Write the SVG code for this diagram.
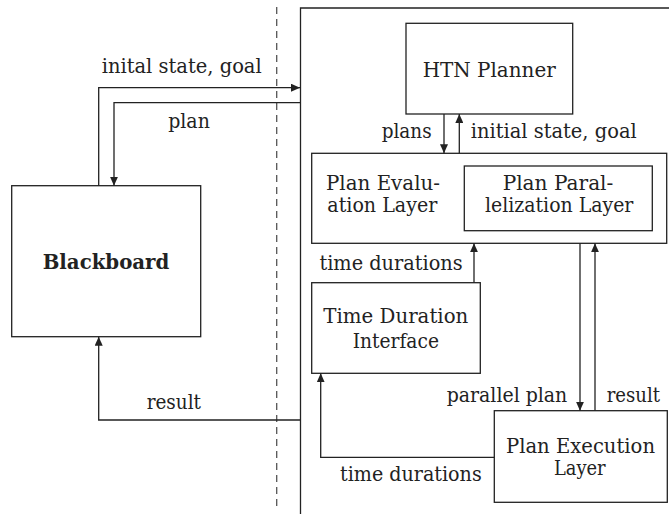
<svg xmlns="http://www.w3.org/2000/svg" width="669" height="514" viewBox="0 0 669 514">
<style>
.b{fill:#fff;stroke:#222;stroke-width:1.3}
.l{fill:none;stroke:#222;stroke-width:1.3}
text{font-family:'DejaVu Serif','Liberation Serif',serif;font-size:20px;fill:#222}
.m{text-anchor:middle}
.e{text-anchor:end}
</style>
<defs>
<marker id="a" markerWidth="10" markerHeight="8" refX="9" refY="4" orient="auto" markerUnits="userSpaceOnUse">
<path d="M0,0 L9,4 L0,8 Z" fill="#222"/>
</marker>
</defs>
<rect width="669" height="514" fill="#fff"/>
<line x1="276.7" y1="7" x2="276.7" y2="510" stroke="#555" stroke-width="1.3" stroke-dasharray="7,5"/>
<g id="container">
<path class="l" d="M669,8 H300.5 V514"/>
</g>
<g id="blackboard">
<rect class="b" x="11.7" y="185.7" width="189" height="151"/>
<text class="m" x="106" y="269" font-weight="bold" textLength="126.7" lengthAdjust="spacingAndGlyphs">Blackboard</text>
</g>
<g id="htn">
<rect class="b" x="406" y="23.3" width="166.7" height="90.7"/>
<text class="m" x="489.2" y="76.7" textLength="133" lengthAdjust="spacingAndGlyphs">HTN Planner</text>
</g>
<g id="evaluation">
<rect class="b" x="311.7" y="153.3" width="355" height="90"/>
<text class="m" x="383" y="190" textLength="114" lengthAdjust="spacingAndGlyphs">Plan Evalu-</text>
<text class="m" x="382.3" y="212.3" textLength="110" lengthAdjust="spacingAndGlyphs">ation Layer</text>
</g>
<g id="parallelization">
<rect class="b" x="464.3" y="166" width="188" height="64.7"/>
<text class="m" x="558" y="190" textLength="110.7" lengthAdjust="spacingAndGlyphs">Plan Paral-</text>
<text class="m" x="559.2" y="212.3" textLength="148.3" lengthAdjust="spacingAndGlyphs">lelization Layer</text>
</g>
<g id="timeduration">
<rect class="b" x="311.7" y="282.7" width="168.6" height="90.6"/>
<text class="m" x="395.8" y="322.7" textLength="145" lengthAdjust="spacingAndGlyphs">Time Duration</text>
<text class="m" x="395.8" y="348.3" textLength="86.3" lengthAdjust="spacingAndGlyphs">Interface</text>
</g>
<g id="execution">
<rect class="b" x="494.3" y="410.7" width="173" height="91.6"/>
<text class="m" x="580.5" y="452.7" textLength="149" lengthAdjust="spacingAndGlyphs">Plan Execution</text>
<text class="m" x="579.8" y="475" textLength="51.7" lengthAdjust="spacingAndGlyphs">Layer</text>
</g>
<g id="connectors">
<path class="l" d="M98.7,185.7 V87.7 H300" marker-end="url(#a)"/>
<path class="l" d="M300.5,102.7 H114 V185.7" marker-end="url(#a)"/>
<path class="l" d="M300.5,420 H98.7 V336.7" marker-end="url(#a)"/>
<path class="l" d="M444,114 V153.3" marker-end="url(#a)"/>
<path class="l" d="M459.3,153.3 V114" marker-end="url(#a)"/>
<path class="l" d="M474,282.7 V243.3" marker-end="url(#a)"/>
<path class="l" d="M580,243.3 V410.7" marker-end="url(#a)"/>
<path class="l" d="M595,410.7 V243.3" marker-end="url(#a)"/>
<path class="l" d="M494.3,457.3 H320.7 V373.3" marker-end="url(#a)"/>
<text class="m" x="181.7" y="72.7" textLength="160" lengthAdjust="spacingAndGlyphs">inital state, goal</text>
<text class="m" x="189" y="128" textLength="41.7" lengthAdjust="spacingAndGlyphs">plan</text>
<text class="m" x="173.8" y="409" textLength="54.3" lengthAdjust="spacingAndGlyphs">result</text>
<text class="e" x="431.7" y="138" textLength="50" lengthAdjust="spacingAndGlyphs">plans</text>
<text x="470.7" y="138" textLength="166" lengthAdjust="spacingAndGlyphs">initial state, goal</text>
<text class="e" x="462.7" y="270" textLength="143.3" lengthAdjust="spacingAndGlyphs">time durations</text>
<text class="e" x="567.3" y="401.7" textLength="120.6" lengthAdjust="spacingAndGlyphs">parallel plan</text>
<text x="606.7" y="401.7" textLength="53.3" lengthAdjust="spacingAndGlyphs">result</text>
<text class="e" x="481.7" y="480.7" textLength="141.7" lengthAdjust="spacingAndGlyphs">time durations</text>
</g>
</svg>
